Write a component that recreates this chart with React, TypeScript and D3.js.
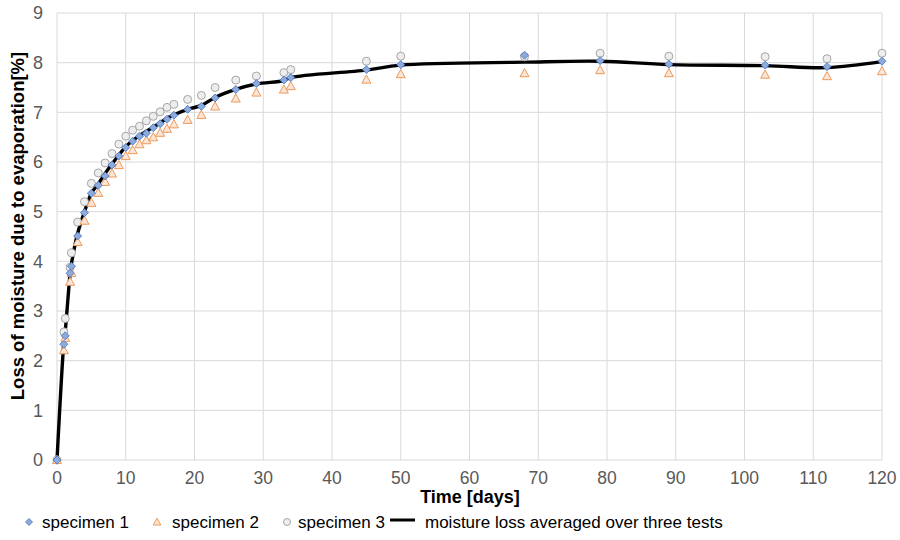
import React from "react";
import * as d3 from "d3";

const days = [0, 1, 1.2, 1.9, 2.1, 3, 4, 5, 6, 7, 8, 9, 10, 11, 12, 13, 14, 15, 16, 17, 19, 21, 23, 26, 29, 33, 34, 45, 50, 68, 79, 89, 103, 112, 120];
const specimen1 = [0, 2.33, 2.5, 3.76, 3.9, 4.51, 4.98, 5.37, 5.53, 5.72, 5.94, 6.12, 6.29, 6.42, 6.52, 6.58, 6.69, 6.77, 6.86, 6.94, 7.06, 7.12, 7.29, 7.46, 7.58, 7.65, 7.7, 7.86, 7.96, 8.15, 8.04, 7.97, 7.95, 7.92, 8.03];
const specimen2 = [0, 2.21, 2.46, 3.59, 3.77, 4.39, 4.82, 5.18, 5.38, 5.6, 5.77, 5.94, 6.12, 6.24, 6.36, 6.44, 6.5, 6.59, 6.67, 6.76, 6.85, 6.95, 7.12, 7.28, 7.4, 7.46, 7.53, 7.66, 7.77, 7.79, 7.85, 7.79, 7.76, 7.73, 7.83];
const specimen3 = [0, 2.58, 2.85, 3.88, 4.17, 4.79, 5.2, 5.57, 5.78, 5.98, 6.17, 6.36, 6.52, 6.64, 6.72, 6.83, 6.92, 7.01, 7.1, 7.16, 7.26, 7.34, 7.5, 7.65, 7.73, 7.8, 7.86, 8.03, 8.13, 8.12, 8.19, 8.13, 8.12, 8.08, 8.19];
const averaged = [0, 2.37, 2.6, 3.74, 3.95, 4.56, 5.0, 5.37, 5.56, 5.77, 5.96, 6.14, 6.31, 6.43, 6.53, 6.62, 6.7, 6.79, 6.88, 6.95, 7.06, 7.14, 7.3, 7.46, 7.57, 7.64, 7.7, 7.85, 7.95, 8.01, 8.03, 7.96, 7.94, 7.9, 8.02];

const xTicks = [0, 10, 20, 30, 40, 50, 60, 70, 80, 90, 100, 110, 120];
const yTicks = [0, 1, 2, 3, 4, 5, 6, 7, 8, 9];
const legendLabels = ["specimen 1", "specimen 2", "specimen 3", "moisture loss averaged over three tests"];

const W = 900, H = 540;
const left = 57, right = 882, top = 13, bottom = 460;
const FONT = "'Liberation Sans', Arial, sans-serif";

const C1 = { fill: "#8eaadb", stroke: "#4472c4" };
const C2 = { fill: "#fbe5d6", stroke: "#ed9a5a" };
const C3 = { fill: "#ededed", stroke: "#a6a6a6" };

function Diamond({ x, y, s = 4 }: { x: number; y: number; s?: number }) {
  return <path d={`M${x},${y - s}L${x + s},${y}L${x},${y + s}L${x - s},${y}Z`} fill={C1.fill} stroke={C1.stroke} strokeWidth={0.8} />;
}
function Triangle({ x, y, s = 4.5 }: { x: number; y: number; s?: number }) {
  return <path d={`M${x},${y - s}L${x + s},${y + s * 0.8}L${x - s},${y + s * 0.8}Z`} fill={C2.fill} stroke={C2.stroke} strokeWidth={1} />;
}
function Circle({ x, y, r = 4 }: { x: number; y: number; r?: number }) {
  return <circle cx={x} cy={y} r={r} fill={C3.fill} stroke={C3.stroke} strokeWidth={1} />;
}

export default function App() {
  const xs = d3.scaleLinear().domain([0, 120]).range([left, right]);
  const ys = d3.scaleLinear().domain([0, 9]).range([bottom, top]);
  const line = d3
    .line<number>()
    .x((_, i) => xs(days[i]))
    .y((v) => ys(v))
    .curve(d3.curveCatmullRom.alpha(0.5));
  const d = line(averaged) || "";

  return (
    <svg width={W} height={H} style={{ position: "absolute", left: 0, top: 0, background: "#fff" }} fontFamily={FONT}>
      <rect width={W} height={H} fill="#fff" />
      {yTicks.map((t) => (
        <line key={"gy" + t} x1={left} x2={right} y1={ys(t)} y2={ys(t)} stroke="#d9d9d9" strokeWidth={1} />
      ))}
      {xTicks.map((t) => (
        <line key={"gx" + t} x1={xs(t)} x2={xs(t)} y1={top} y2={bottom} stroke="#d9d9d9" strokeWidth={1} />
      ))}
      {yTicks.map((t) => (
        <text key={"ty" + t} x={left - 14} y={ys(t)} dy="0.35em" textAnchor="end" fontSize={18} fill="#595959">
          {t}
        </text>
      ))}
      {xTicks.map((t) => (
        <text key={"tx" + t} x={xs(t)} y={bottom + 24} textAnchor="middle" fontSize={17.5} fill="#595959">
          {t}
        </text>
      ))}
      <text x={470} y={503} textAnchor="middle" fontSize={18} fontWeight="bold" fill="#000">
        Time [days]
      </text>
      <text transform={`translate(24,226) rotate(-90)`} textAnchor="middle" fontSize={18.5} fontWeight="bold" fill="#000">
        Loss of moisture due to evaporation[%]
      </text>

      <path d={d} fill="none" stroke="#000" strokeWidth={3.4} strokeLinejoin="round" />
      {specimen3.map((v, i) => (
        <Circle key={"c" + i} x={xs(days[i])} y={ys(v)} />
      ))}
      {specimen2.map((v, i) => (
        <Triangle key={"t" + i} x={xs(days[i])} y={ys(v)} />
      ))}
      {specimen1.map((v, i) => (
        <Diamond key={"d" + i} x={xs(days[i])} y={ys(v)} />
      ))}

      <g fontSize={17} fill="#000">
        <Diamond x={29} y={522} s={3.5} />
        <text x={42} y={528}>{legendLabels[0]}</text>
        <Triangle x={157} y={522} s={3.8} />
        <text x={172} y={528}>{legendLabels[1]}</text>
        <Circle x={287} y={522} r={3.5} />
        <text x={298} y={528}>{legendLabels[2]}</text>
        <line x1={390} x2={415} y1={520} y2={520} stroke="#000" strokeWidth={3} />
        <text x={425} y={528}>{legendLabels[3]}</text>
      </g>
    </svg>
  );
}
